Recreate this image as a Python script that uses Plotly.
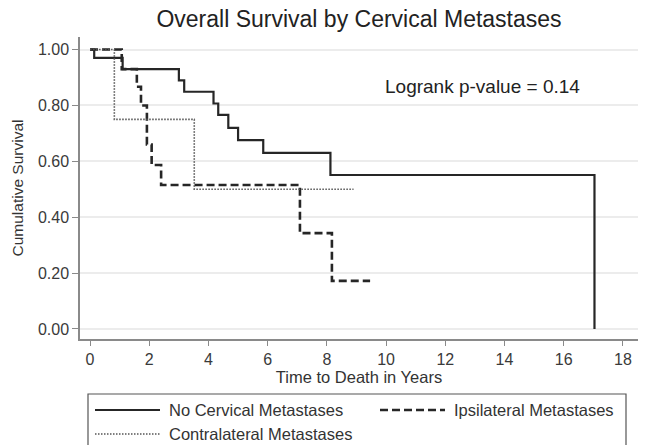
import plotly.graph_objects as go

# ---- data ----
no_met_time = [0, 0.14, 1.10, 3.00, 3.18, 4.17, 4.33, 4.67, 5.00, 5.85, 8.12, 17.04]
no_met_surv = [1.00, 0.97, 0.93, 0.89, 0.849, 0.807, 0.766, 0.72, 0.676, 0.63, 0.551, 0.0]

ipsi_time = [0, 1.07, 1.58, 1.72, 1.92, 2.08, 2.40, 7.09, 8.17, 9.46]
ipsi_surv = [1.00, 0.93, 0.867, 0.80, 0.66, 0.587, 0.515, 0.343, 0.172, 0.172]

contra_time = [0, 0.82, 3.52, 8.90]
contra_surv = [1.00, 0.75, 0.50, 0.50]

x_ticks = [0, 2, 4, 6, 8, 10, 12, 14, 16, 18]
y_ticks = [0.0, 0.2, 0.4, 0.6, 0.8, 1.0]

FONT = "Liberation Sans, Arial, sans-serif"
INK = "#262626"
W, H = 645, 445
ML, MR, MT, MB = 80, 7, 37, 106
PW, PH = W - ML - MR, H - MT - MB


def px(x):
    return (x - ML) / PW


def py(y):
    return (H - MB - y) / PH


series = [
    ("No Cervical Metastases", no_met_time, no_met_surv, dict(color=INK, width=2.2)),
    ("Ipsilateral Metastases", ipsi_time, ipsi_surv, dict(color=INK, width=2.6, dash="8px,4px")),
    ("Contralateral Metastases", contra_time, contra_surv,
     dict(color="#555555", width=1.6, dash="1.5px,1.5px")),
]

fig = go.Figure()
for name, t, s, ln in series:
    fig.add_trace(go.Scatter(x=t, y=s, mode="lines", line_shape="hv", name=name,
                             line=ln, showlegend=False))

fig.update_layout(
    width=W, height=H,
    margin=dict(l=ML, r=MR, t=MT, b=MB),
    paper_bgcolor="white", plot_bgcolor="white",
    font=dict(family=FONT, color="#333333", size=16),
    title=dict(text="Overall Survival by Cervical Metastases",
               font=dict(family=FONT, size=23, color="#222222"),
               x=0.5, xref="paper", xanchor="center",
               y=1 - 19 / H, yref="container", yanchor="middle"),
    showlegend=False,
    xaxis=dict(range=[-0.34, 18.51], tickvals=x_ticks, ticktext=[str(v) for v in x_ticks],
               automargin=False,
               showgrid=False, zeroline=False, showline=True, linecolor="#8a8a8a", linewidth=1.5,
               ticks="outside", ticklen=5, tickwidth=1.2, tickcolor="#8a8a8a",
               tickfont=dict(family=FONT, size=16, color="#3a3a3a"),
               title=dict(text="Time to Death in Years", standoff=0,
                          font=dict(family=FONT, size=16.5, color="#333333"))),
    yaxis=dict(range=[-0.036, 1.045], tickvals=y_ticks, tickformat=".2f",
               automargin=False,
               showgrid=True, gridcolor="#ececec", gridwidth=1.5, zeroline=False,
               showline=True, linecolor="#8a8a8a", linewidth=1.5,
               ticks="outside", ticklen=6, tickwidth=1.2, tickcolor="#8a8a8a",
               tickfont=dict(family=FONT, size=16, color="#3a3a3a"),
               title=dict(text="Cumulative Survival", standoff=10,
                          font=dict(family=FONT, size=15.5, color="#333333"))),
)

fig.add_annotation(text="Logrank p-value = 0.14", xref="paper", yref="paper",
                   x=px(582), y=py(86), xanchor="right", yanchor="middle", showarrow=False,
                   font=dict(family=FONT, size=19, color="#222222"))

# ---- legend (frame runs past the bottom edge, as in the reference) ----
fig.add_shape(type="rect", xref="paper", yref="paper",
              x0=px(88), x1=px(626), y0=py(480), y1=py(394),
              line=dict(color="#555555", width=1.2), fillcolor="rgba(0,0,0,0)", layer="above")

legend_slots = [(95, 410), (380, 410), (95, 434)]
for (name, _, _, ln), (lx, ly) in zip(series, legend_slots):
    fig.add_shape(type="line", xref="paper", yref="paper",
                  x0=px(lx), x1=px(lx + 65), y0=py(ly), y1=py(ly), line=ln)
    fig.add_annotation(text=name, xref="paper", yref="paper",
                       x=px(lx + 72), y=py(ly), xanchor="left", yanchor="middle",
                       showarrow=False, font=dict(family=FONT, size=16.5, color="#333333"))

fig.write_html("out.html", config={"displayModeBar": False},
               post_script="document.body.style.margin='0';document.body.style.overflow='hidden';")
